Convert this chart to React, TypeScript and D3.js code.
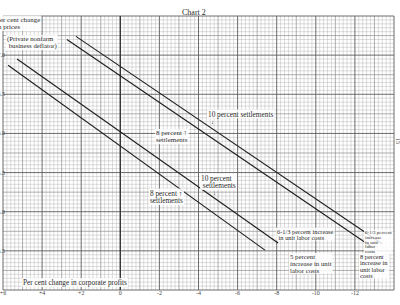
import React, { useEffect, useRef } from "react";
import * as d3 from "d3";

const W = 400;
const H = 305;

// x: per cent change in corporate profits, y: per cent change in prices
const xTickValues = [6, 4, 2, 0, -2, -4, -6, -8, -10, -12];
const xTickLabels = ["+6", "+4", "+2", "0", "-2", "-4", "-6", "-8", "-10", "-12"];
const yTickValues = [7.0, 6.5, 6.0, 5.5, 5.0, 4.5];
const yTickLabels = ["7.0", "6.5", "6.0", "5.5", "5.0", "4.5"];

// Upper pair (10 / 8 percent settlements with higher labor costs)
const upperTenPct = [
  { x: 2.27, y: 7.24 },
  { x: -13.39, y: 4.59 },
];
const upperEightPct = [
  { x: 2.73, y: 7.2 },
  { x: -12.87, y: 4.55 },
];
// Lower pair
const lowerTenPct = [
  { x: 5.28, y: 6.95 },
  { x: -8.07, y: 4.6 },
];
const lowerEightPct = [
  { x: 5.74, y: 6.87 },
  { x: -7.4, y: 4.51 },
];

const FONT = "'Liberation Serif', 'DejaVu Serif', serif";

export default function App() {
  const ref = useRef<SVGSVGElement | null>(null);

  useEffect(() => {
    const svg = d3.select(ref.current);
    svg.selectAll("*").remove();

    const xs = d3.scaleLinear().domain([6, -14]).range([3, 394]);
    const ys = d3.scaleLinear().domain([7.5, 4.0]).range([16, 290]);

    svg.append("rect").attr("width", W).attr("height", H).attr("fill", "#ffffff");

    const grid = svg.append("g");
    const x0 = xs.range()[0], x1 = xs.range()[1];
    const y0 = ys.range()[0], y1 = ys.range()[1];

    const styleFor = (i: number) =>
      i % 10 === 0
        ? { c: "#5c5c5c", w: 0.9 }
        : i % 5 === 0
        ? { c: "#8e8e8e", w: 0.7 }
        : { c: "#b8b8b8", w: 0.5 };

    const vIdx = d3.range(0, 101);
    const hIdx = d3.range(0, 71);
    [2, 1, 0].forEach((level) => {
      vIdx.forEach((i) => {
        const lv = i % 10 === 0 ? 0 : i % 5 === 0 ? 1 : 2;
        if (lv !== level) return;
        const s = styleFor(i);
        const X = xs(6 - i * 0.2);
        grid.append("line").attr("x1", X).attr("x2", X).attr("y1", y0).attr("y2", y1)
          .attr("stroke", s.c).attr("stroke-width", s.w);
      });
      hIdx.forEach((i) => {
        const lv = i % 10 === 0 ? 0 : i % 5 === 0 ? 1 : 2;
        if (lv !== level) return;
        const s = styleFor(i);
        const Y = ys(7.5 - i * 0.05);
        grid.append("line").attr("x1", x0).attr("x2", x1).attr("y1", Y).attr("y2", Y)
          .attr("stroke", s.c).attr("stroke-width", s.w);
      });
    });
    // zero line
    grid.append("line").attr("x1", xs(0)).attr("x2", xs(0)).attr("y1", y0).attr("y2", y1)
      .attr("stroke", "#333333").attr("stroke-width", 1.3);

    // tick labels
    xTickValues.forEach((v, i) => {
      svg.append("text").attr("x", xs(v)).attr("y", 295).attr("text-anchor", "middle")
        .attr("font-family", FONT).attr("font-size", 6).attr("fill", "#444").text(xTickLabels[i]);
    });
    yTickValues.forEach((v, i) => {
      svg.append("text").attr("x", 5).attr("y", ys(v) + 2).attr("text-anchor", "end")
        .attr("font-family", FONT).attr("font-size", 6).attr("fill", "#444").text(yTickLabels[i]);
    });

    // data lines
    const line = d3.line<{ x: number; y: number }>().x((d) => xs(d.x)).y((d) => ys(d.y));
    [upperTenPct, upperEightPct, lowerTenPct, lowerEightPct].forEach((s) => {
      svg.append("path").attr("d", line(s) as string).attr("fill", "none")
        .attr("stroke", "#1e1e1e").attr("stroke-width", 1.1);
    });

    const label = (
      lines: string[], x: number, y: number, size: number, lh: number,
      bg = true, anchor = "start"
    ) => {
      const t = svg.append("text").attr("font-family", FONT).attr("font-size", size)
        .attr("fill", "#2a2a2a").attr("text-anchor", anchor);
      lines.forEach((s, i) => t.append("tspan").attr("x", x).attr("y", y + i * lh).text(s));
      if (bg) {
        const bb = (t.node() as SVGTextElement).getBBox();
        svg.insert("rect", () => t.node() as any)
          .attr("x", bb.x - 1).attr("y", bb.y).attr("width", bb.width + 2).attr("height", bb.height)
          .attr("fill", "#ffffff").attr("opacity", 0.85);
      }
      return t;
    };

    label(["Chart 2"], 182, 15, 8, 8, false);
    label(["Per cent change", "in prices"], -4, 21.5, 7, 7.6);
    label(["(Private nonfarm", "  business deflator)"], 7, 41, 6.8, 7.2);
    label(["10 percent settlements"], 208, 116.5, 7.3, 7);
    label(["\u2193"], 211, 124, 6, 6, false);
    label(["8 percent \u2191", "settlements"], 156, 135, 7, 7.2);
    label(["10 percent", "   settlements"], 201, 180.5, 7.3, 7.5);
    label(["\u2193"], 213, 195, 6, 6, false);
    label(["8 percent \u2191", "settlements"], 150, 195.5, 7.3, 7.5);
    label(["6-1/3 percent increase", "  in unit labor costs"], 277, 233.5, 6.4, 6);
    label(["5 percent", "increase in unit", "labor costs"], 290, 259, 6.8, 6.8, true, "start");
    label(["6-1/3 percent", "increase", "in unit", "labor", "costs"], 365, 234, 5, 4.8);
    label(["8 percent", "increase in", "unit labor", "costs"], 360, 259, 6.4, 6.3);
    label(["Per cent change in corporate profits"], 23, 285, 7.3, 7);

    svg.append("text").attr("transform", "translate(396,138) rotate(90)")
      .attr("font-family", FONT).attr("font-size", 6).attr("fill", "#444").text("15");
  }, []);

  return (
    <svg
      ref={ref}
      width={W}
      height={H}
      style={{ position: "fixed", left: 0, top: 0, display: "block" }}
    />
  );
}
